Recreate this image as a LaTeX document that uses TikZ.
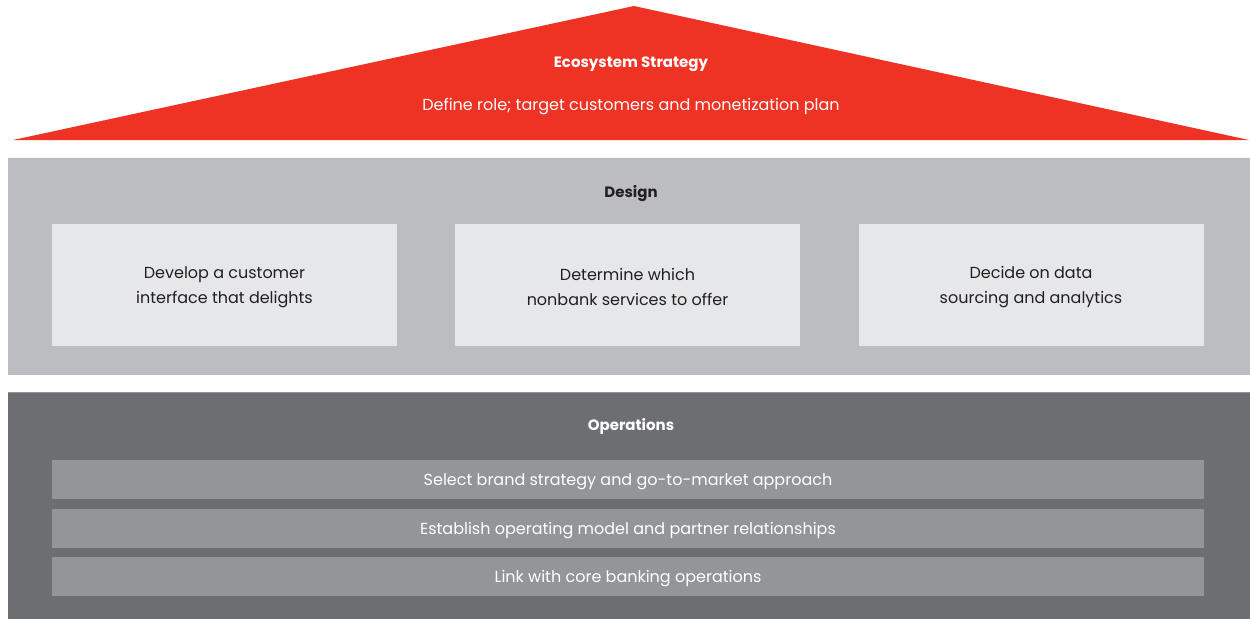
\documentclass[tikz,border=0pt]{standalone}
\usepackage{fontspec}
\setmainfont{Poppins}
\definecolor{bred}{HTML}{EE3324}
\definecolor{dgrey}{HTML}{BCBDC1}
\definecolor{lgrey}{HTML}{E6E7E8}
\definecolor{ogrey}{HTML}{6D6E71}
\definecolor{bgrey}{HTML}{939598}
\definecolor{tdark}{HTML}{231F20}
\tikzset{
  dbox/.style={fill=lgrey, draw=none, minimum width=345pt, minimum height=122pt, inner sep=0pt, align=center, text=tdark, font=\fontsize{16}{25}\selectfont},
  obar/.style={fill=bgrey, draw=none, minimum width=1152pt, minimum height=39pt, inner sep=0pt, text=white, font=\fontsize{16}{19}\selectfont},
  ttl/.style={font=\fontsize{15}{18}\selectfont\bfseries},
  sub/.style={font=\fontsize{16}{19}\selectfont}
}
\begin{document}
\begin{tikzpicture}[x=1pt,y=-1pt]
\useasboundingbox (0,0) rectangle (1250,619);
% roof
\fill[bred] (13,140) -- (634,6) -- (1249,140) -- cycle;
\node[ttl, text=white] (eco) at (631,64) {Ecosystem Strategy};
\node[sub, text=white] (def) at (631,107) {Define role; target customers and monetization plan};
% design band
\fill[dgrey] (8,157) rectangle (1250,375);
\draw[white!85!dgrey, line width=1pt] (8,157.5) -- (1250,157.5);
\node[ttl, text=tdark] (design) at (631,194) {Design};
\node[dbox] (d1) at (224.5,285) {};
\node[dbox] (d2) at (627.5,285) {};
\node[dbox] (d3) at (1031,285) {};
\node[align=center, text=tdark, font=\fontsize{16}{25}\selectfont] at ([yshift=-2pt]d1.center) {Develop a customer\\interface that delights};
\node[align=center, text=tdark, font=\fontsize{16}{25}\selectfont] at ([yshift=-2pt]d2.center) {Determine which\\nonbank services to offer};
\node[align=center, text=tdark, font=\fontsize{16}{25}\selectfont] at ([yshift=-2pt]d3.center) {Decide on data\\sourcing and analytics};
% operations band
\fill[ogrey] (8,392) rectangle (1250,619);
\draw[bgrey, line width=1pt] (8,392.5) -- (1250,392.5);
\node[ttl, text=white] (ops) at (631,426) {Operations};
\node[obar] (o1) at (628,479.5) {};
\node[obar] (o2) at (628,528.5) {};
\node[obar] (o3) at (628,576.5) {};
\node[text=white, font=\fontsize{16}{19}\selectfont] at ([yshift=-2pt]o1.center) {Select brand strategy and go-to-market approach};
\node[text=white, font=\fontsize{16}{19}\selectfont] at ([yshift=-2pt]o2.center) {Establish operating model and partner relationships};
\node[text=white, font=\fontsize{16}{19}\selectfont] at ([yshift=-2pt]o3.center) {Link with core banking operations};
\end{tikzpicture}
\end{document}
